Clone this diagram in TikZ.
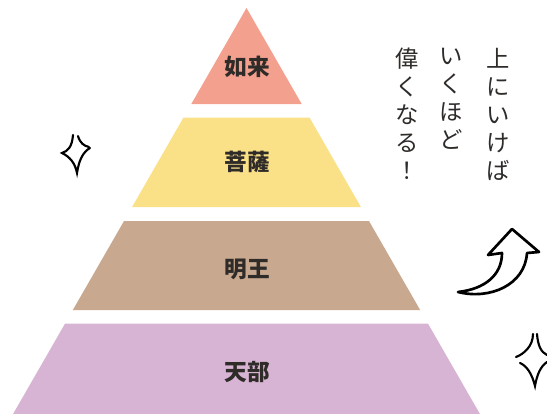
\documentclass[tikz,border=0pt]{standalone}
\usepackage{fontspec}
\newfontfamily\jpfont{Noto Sans CJK JP}
\definecolor{pyText}{HTML}{2E2B29}
\definecolor{pyNyorai}{HTML}{F4A08E}
\definecolor{pyBosatsu}{HTML}{FAE187}
\definecolor{pyMyoo}{HTML}{C8A88E}
\definecolor{pyTenbu}{HTML}{D8B4D4}
\usetikzlibrary{positioning}

\begin{document}
\begin{tikzpicture}[x=0.75pt, y=-0.75pt,
  tierlabel/.style={font=\jpfont\bfseries\fontsize{17}{17}\selectfont, text=pyText, inner sep=0pt},
  column/.style={font=\jpfont\fontsize{17.5}{21}\selectfont, text=pyText, align=center, anchor=north, inner sep=0pt},
  sparkle/.style={draw=black, line width=1.6pt, line cap=round},
  uparrow/.style={draw=black, fill=white, line width=2pt, line join=round}
]
  \useasboundingbox (0,0) rectangle (547,414);

  % pyramid tiers (apex at 246.5/8)
  \foreach \t/\b/\col in {8/104/pyNyorai, 117.5/207/pyBosatsu, 221/310/pyMyoo, 323.5/414/pyTenbu}{
    \fill[\col] ({246.5-0.575*(\t-8)},\t) -- ({246.5+0.575*(\t-8)},\t)
      -- ({246.5+0.575*(\b-8)},\b) -- ({246.5-0.575*(\b-8)},\b) -- cycle;
  }

  \node[tierlabel] (nyorai) at (247.5,67) {如来};
  \node[tierlabel] (bosatsu) at (247.5,162) {菩薩};
  \node[tierlabel] (myoo) at (247.5,269) {明王};
  \node[tierlabel] (tenbu) at (247.5,372) {天部};

  % vertical text, right to left
  \node[column] (col1) at (498,48) {上\\に\\い\\け\\ば};
  \node[column] (col2) at (451,48) {い\\く\\ほ\\ど};
  \node[column] (col3) at (407,48) {偉\\く\\な\\る\\！};

  % up arrow
  \draw[uparrow] (458,292) .. controls (490,300) and (525,285) .. (527,253)
    -- (539,252) -- (512,229) -- (488,255) -- (502,253)
    .. controls (502,275) and (485,289) .. cycle;

  % sparkles
  \draw[sparkle] (73,135) .. controls (72,147) and (68,151) .. (62,153)
    .. controls (70,157) and (75,163) .. (77,173)
    .. controls (79,160) and (83,152) .. (90,148);
  \draw[sparkle] (78,136) .. controls (80,143) and (84,146) .. (89,147);
  \draw[sparkle] (533,334) .. controls (533,346) and (524,354) .. (516,357);
  \draw[sparkle] (537,334) .. controls (538,346) and (541,352) .. (547,355);
  \draw[sparkle] (520,363) .. controls (527,366) and (532,374) .. (535,386)
    .. controls (537,374) and (541,366) .. (547,362);
\end{tikzpicture}
\end{document}
